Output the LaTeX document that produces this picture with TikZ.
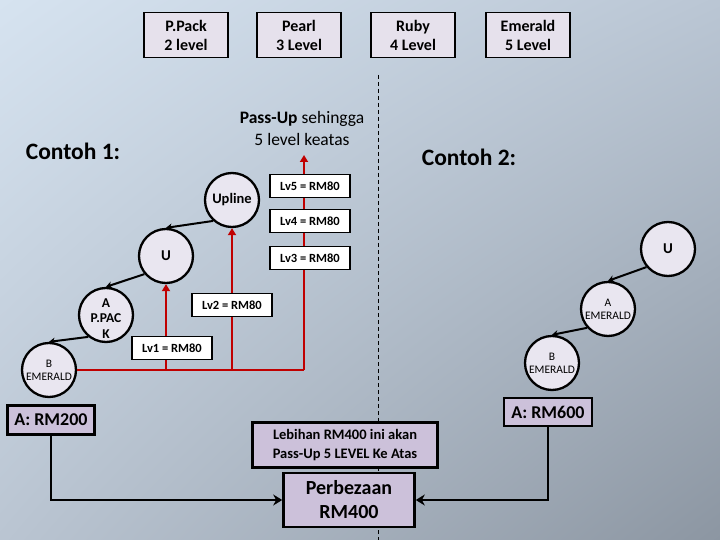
\documentclass[tikz,border=0pt]{standalone}
\usepackage{fontspec}
\setmainfont{Carlito}
\usetikzlibrary{arrows.meta,shadings}
\definecolor{bgTL}{RGB}{214,227,240}
\definecolor{bgTR}{RGB}{186,198,212}
\definecolor{bgBL}{RGB}{186,197,210}
\definecolor{bgBR}{RGB}{140,150,162}
\definecolor{lvtop}{RGB}{230,225,236}
\definecolor{circfill}{RGB}{233,230,240}
\definecolor{lav}{RGB}{204,193,218}
\definecolor{redln}{RGB}{192,0,0}
\begin{document}
\begin{tikzpicture}[x=1pt,y=-1pt,
 levelbox/.style={draw=black,line width=1.2pt,fill=lvtop,minimum width=84pt,minimum height=45pt,align=center,font=\fontsize{16}{19}\selectfont\bfseries,inner sep=2pt},
 member/.style={circle,draw=black,line width=2.3pt,fill=circfill,minimum size=54pt,inner sep=0pt,align=center},
 lvbox/.style={draw=black,line width=1.8pt,fill=white,minimum width=80pt,minimum height=23pt,inner sep=1pt,font=\fontsize{12.5}{14}\selectfont\bfseries},
 lavbox/.style={draw=black,line width=2.6pt,fill=lav,align=center,inner sep=2pt},
 redline/.style={draw=redln,line width=2.5pt},
 redarrow/.style={redline,-{Triangle[width=8pt,length=7pt]}},
 blackarrow/.style={draw=black,line width=2pt,-{Stealth[width=7pt,length=6pt]}},
 flowline/.style={draw=black,line width=2.8pt,-{Stealth[width=11pt,length=9pt]}},
 titletext/.style={font=\fontsize{23.5}{26}\selectfont\bfseries}
]
\useasboundingbox (0,0) rectangle (720,540);
\shade[upper left=bgTL,upper right=bgTR,lower left=bgBL,lower right=bgBR] (0,0) rectangle (720,540);

% top level boxes
\node[levelbox] (ppack) at (186,35) {P.Pack\\2 level};
\node[levelbox] (pearl) at (299,35) {Pearl\\3 Level};
\node[levelbox] (ruby) at (413,35) {Ruby\\4 Level};
\node[levelbox] (emerald) at (528,35) {Emerald\\5 Level};

% divider
\coordinate (dtop) at (378,75);
\coordinate (dbot) at (378,540);
\draw[line width=0.9pt,dash pattern=on 4pt off 3pt] (dtop) -- (dbot);

% titles
\node[titletext] (c1) at (73,151) {Contoh 1:};
\node[titletext] (c2) at (469,157) {Contoh 2:};
\node[align=center,font=\fontsize{17.5}{22}\selectfont] (passup) at (302,128) {\textbf{Pass-Up} sehingga\\5 level keatas};

% members left
\node[member,font=\fontsize{14.5}{16}\selectfont\bfseries] (upline) at (232,200) {Upline};
\node[member,font=\fontsize{15}{16}\selectfont\bfseries] (ul) at (166,256) {U};
\node[member,font=\fontsize{13.5}{15.5}\selectfont\bfseries] (apack) at (106,315) {\raisebox{-8pt}[0pt][0pt]{\begin{tabular}{@{}c@{}}A\\P.PAC\\K\end{tabular}}};
\node[member,font=\fontsize{11.5}{13}\selectfont] (bl) at (49,370) {B\\EMERALD};

% members right
\node[member,font=\fontsize{15}{16}\selectfont\bfseries] (ur) at (668,249) {U};
\node[member,font=\fontsize{11.5}{13}\selectfont] (ar) at (608,309) {A\\EMERALD};
\node[member,font=\fontsize{11.5}{13}\selectfont] (br) at (552,363) {B\\EMERALD};

% red pass-up lines
\coordinate (j1) at (166,370);
\coordinate (j2) at (232,370);
\coordinate (jr) at (304,370);
\coordinate (ptop) at (304,155);
\draw[redline] (bl.east) -- (jr);
\draw[redarrow] (jr) -- (ptop);
\draw[redarrow] (j1) -- (ul.south);
\draw[redarrow] (j2) -- (upline.south);

% level amount boxes
\node[lvbox] (lv5) at (310,186) {Lv5 = RM80};
\node[lvbox] (lv4) at (310,221) {Lv4 = RM80};
\node[lvbox] (lv3) at (310,258) {Lv3 = RM80};
\node[lvbox] (lv2) at (232,305) {Lv2 = RM80};
\node[lvbox] (lv1) at (172,348) {Lv1 = RM80};

% sponsor arrows
\draw[blackarrow] (upline.228) -- (ul.north);
\draw[blackarrow] (ul.220) -- (apack.north);
\draw[blackarrow] (apack.231) -- (bl.north);
\draw[blackarrow] (ur.220) -- (ar.north);
\draw[blackarrow] (ar.222) -- (br.north);

% bottom boxes
\node[lavbox,minimum width=87pt,minimum height=29pt,font=\fontsize{18}{20}\selectfont\bfseries] (a200) at (51,420) {A: RM200};
\node[lavbox,minimum width=88pt,minimum height=28pt,font=\fontsize{18}{20}\selectfont\bfseries] (a600) at (548,412) {A: RM600};
\node[lavbox,minimum width=185pt,minimum height=45pt,font=\fontsize{14.5}{19}\selectfont\bfseries] (lebih) at (345,445) {Lebihan RM400 ini akan\\Pass-Up 5 LEVEL Ke Atas};
\node[lavbox,minimum width=131pt,minimum height=54pt,font=\fontsize{20}{24}\selectfont\bfseries] (perb) at (349,500) {Perbezaan\\RM400};

\draw[flowline] (a200.south) |- (perb.west);
\draw[flowline] (a600.south) |- (perb.east);
\end{tikzpicture}
\end{document}
